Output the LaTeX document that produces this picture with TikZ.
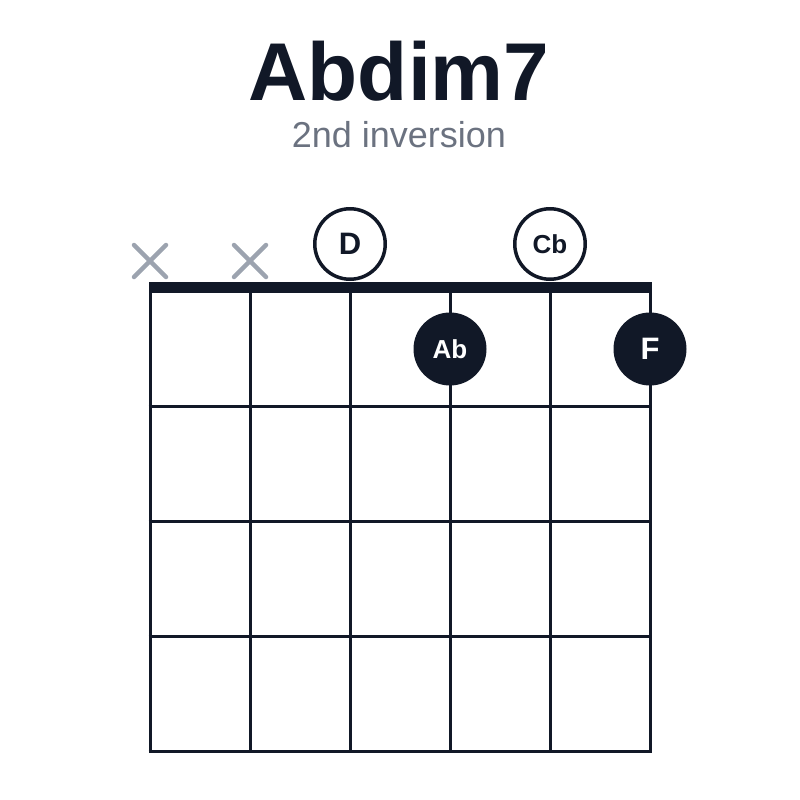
\documentclass[tikz,border=0pt]{standalone}
\usepackage{fontspec}
\setmainfont{Liberation Sans}
\usetikzlibrary{positioning}
\definecolor{ink}{RGB}{17,24,39}
\definecolor{mute}{RGB}{156,163,175}
\definecolor{subgray}{RGB}{107,114,128}
\begin{document}
\begin{tikzpicture}[x=1pt,y=-1pt,line join=miter,
  fretline/.style={draw=ink,line width=3pt},
  opennote/.style={draw=ink,fill=white,line width=3.5pt,circle,inner sep=0pt,minimum size=70.5pt,text=ink},
  fingernote/.style={fill=ink,circle,inner sep=0pt,minimum size=73pt,text=white},
  mutemark/.style={draw=mute,line width=4.5pt,line cap=round},
]
\useasboundingbox (0,0) rectangle (800,800);
%%
\node (title) at (399,100) [anchor=base,text=ink,font=\fontsize{82}{90}\selectfont\bfseries] {Abdim7};
\node (subtitle) at (399,147) [anchor=base,text=subgray,font=\fontsize{36}{40}\selectfont] {2nd inversion};
%% frets and strings
\foreach \y in {406,521,636,751}
  \draw [fretline] (148.5,\y) -- (651.5,\y);
\foreach \x in {150,250,...,650}
  \draw [fretline] (\x,287) -- (\x,752.5);
\fill [ink] (148.5,282) rectangle (651.5,293);
%% muted strings
\foreach \x/\name in {150/mA,250/mB} {
  \coordinate (\name) at (\x,261);
  \draw [mutemark] ([shift={(-16,-16)}]\name) -- ([shift={(16,16)}]\name);
  \draw [mutemark] ([shift={(-16,16)}]\name) -- ([shift={(16,-16)}]\name);
}
%% notes
\node (nD) at (350,244) [opennote,font=\fontsize{31}{36}\selectfont\bfseries] {D};
\node (nCb) at (550,244) [opennote,font=\fontsize{26}{30}\selectfont\bfseries] {Cb};
\node (nAb) at (450,349) [fingernote,font=\fontsize{26}{30}\selectfont\bfseries] {Ab};
\node (nF) at (650,349) [fingernote,font=\fontsize{31}{36}\selectfont\bfseries] {F};
%
\end{tikzpicture}
\end{document}
